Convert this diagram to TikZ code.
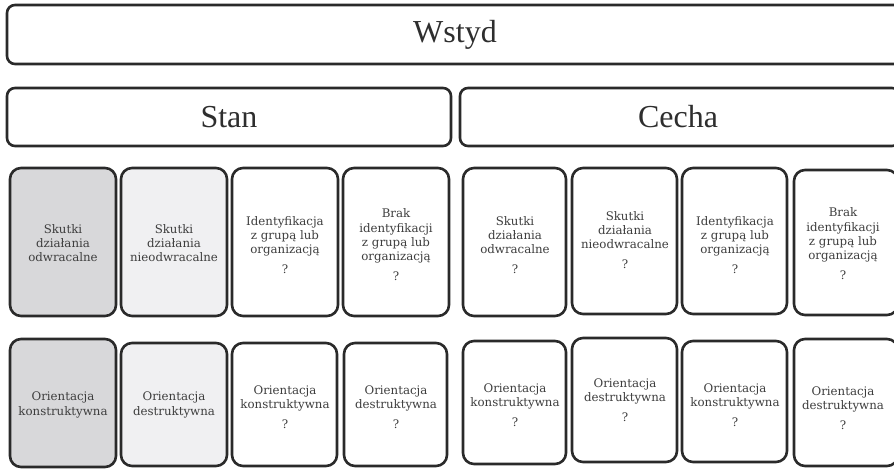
\documentclass[tikz,border=0pt]{standalone}
\usepackage{fontspec}
\setmainfont{Liberation Serif}
\newfontfamily\cardfont{DejaVu Serif}
\definecolor{linecol}{HTML}{2A2A2A}
\definecolor{txtcol}{HTML}{3E3E3E}
\definecolor{hdrtxt}{HTML}{2E2E2E}
\definecolor{fillA}{HTML}{D8D8DA}
\definecolor{fillB}{HTML}{F0F0F2}
\tikzset{
  hdrbox/.style={draw=linecol, line width=2.6pt, rounded corners=8pt, fill=white},
  cardbox/.style={draw=linecol, line width=2.6pt, rounded corners=11pt},
  hdrtext/.style={text=hdrtxt, font=\fontsize{32}{36}\selectfont, inner sep=0pt},
  cardtext/.style={text=txtcol, align=center, inner sep=0pt,
    font=\cardfont\fontsize{11.8}{14.2}\selectfont},
}
\begin{document}
\begin{tikzpicture}[x=1pt,y=-1pt]
\useasboundingbox (0,0) rectangle (894,470);
% headers
\draw[hdrbox] (7,5) rectangle (903,64);
\node[hdrtext] (wstyd) at (455,35) {Wstyd};
\draw[hdrbox] (7,88) rectangle (451,146);
\node[hdrtext] (stan) at (229,117) {Stan};
\draw[hdrbox] (460,88) rectangle (900,146);
\node[hdrtext] (cecha) at (678,117) {Cecha};
% row 1 (Stan)
\draw[cardbox, fill=fillA] (10,168) rectangle (116,316);
\node[cardtext] (a1) at (63,243) {Skutki\\działania\\odwracalne};
\draw[cardbox, fill=fillB] (121,168) rectangle (227,316);
\node[cardtext] (a2) at (174,243) {Skutki\\działania\\nieodwracalne};
\draw[cardbox, fill=white] (232,168) rectangle (338,316);
\node[cardtext] (a3) at (285,245) {Identyfikacja\\z grupą lub\\organizacją\\[6pt]?};
\draw[cardbox, fill=white] (343,168) rectangle (449,316);
\node[cardtext] (a4) at (396,245) {Brak\\identyfikacji\\z grupą lub\\organizacją\\[6pt]?};
% row 1 (Cecha)
\draw[cardbox, fill=white] (463,168) rectangle (566,316);
\node[cardtext] (b1) at (515,245) {Skutki\\działania\\odwracalne\\[6pt]?};
\draw[cardbox, fill=white] (572,168) rectangle (677,314);
\node[cardtext] (b2) at (625,240) {Skutki\\działania\\nieodwracalne\\[6pt]?};
\draw[cardbox, fill=white] (682,168) rectangle (787,314);
\node[cardtext] (b3) at (735,245) {Identyfikacja\\z grupą lub\\organizacją\\[6pt]?};
\draw[cardbox, fill=white] (794,170) rectangle (898,315);
\node[cardtext] (b4) at (843,244) {Brak\\identyfikacji\\z grupą lub\\organizacją\\[6pt]?};
% row 2 (Stan)
\draw[cardbox, fill=fillA] (10,339) rectangle (116,467);
\node[cardtext] (c1) at (63,405) {Orientacja\\konstruktywna};
\draw[cardbox, fill=fillB] (121,343) rectangle (227,466);
\node[cardtext] (c2) at (174,405) {Orientacja\\destruktywna};
\draw[cardbox, fill=white] (232,343) rectangle (337,466);
\node[cardtext] (c3) at (285,407) {Orientacja\\konstruktywna\\[6pt]?};
\draw[cardbox, fill=white] (344,343) rectangle (447,466);
\node[cardtext] (c4) at (396,407) {Orientacja\\destruktywna\\[6pt]?};
% row 2 (Cecha)
\draw[cardbox, fill=white] (463,341) rectangle (566,464);
\node[cardtext] (d1) at (515,405) {Orientacja\\konstruktywna\\[6pt]?};
\draw[cardbox, fill=white] (572,338) rectangle (677,462);
\node[cardtext] (d2) at (625,400) {Orientacja\\destruktywna\\[6pt]?};
\draw[cardbox, fill=white] (682,341) rectangle (787,462);
\node[cardtext] (d3) at (735,405) {Orientacja\\konstruktywna\\[6pt]?};
\draw[cardbox, fill=white] (794,339) rectangle (898,466);
\node[cardtext] (d4) at (843,408) {Orientacja\\destruktywna\\[6pt]?};
\end{tikzpicture}
\end{document}
